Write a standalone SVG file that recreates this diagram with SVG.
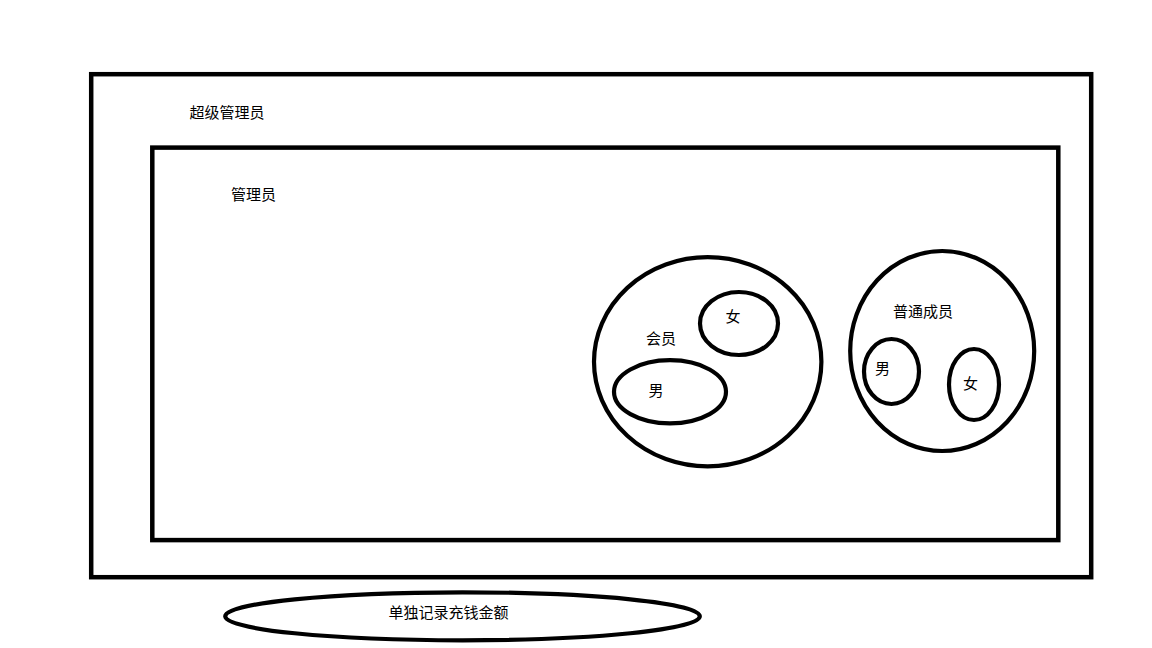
<svg xmlns="http://www.w3.org/2000/svg" width="1152" height="648" viewBox="0 0 1152 648">
<style>
.box{fill:none;stroke:#000;stroke-width:4.5}
.ell{fill:none;stroke:#000;stroke-width:4.2}
text{font-family:"Noto Sans CJK SC","Microsoft YaHei",sans-serif;font-size:15px;fill:#000;text-anchor:middle}
</style>
<rect width="1152" height="648" fill="#fff"/>
<g id="super-admin">
<rect class="box" x="91.2" y="74.2" width="1000" height="503"/>
<text x="227" y="117.5">超级管理员</text>
</g>
<g id="admin">
<rect class="box" x="152.3" y="147.6" width="906" height="392.5"/>
<text x="253.5" y="199.5">管理员</text>
</g>
<g id="member">
<ellipse class="ell" cx="707.7" cy="361.8" rx="113.7" ry="104.6"/>
<text x="661" y="344">会员</text>
</g>
<g id="member-female">
<ellipse class="ell" cx="739" cy="323.5" rx="39" ry="31.5"/>
<text x="733" y="322">女</text>
</g>
<g id="member-male">
<ellipse class="ell" cx="670" cy="391.8" rx="56" ry="31.6"/>
<text x="656" y="396">男</text>
</g>
<g id="regular">
<ellipse class="ell" cx="942.2" cy="351" rx="92" ry="100"/>
<text x="923" y="317">普通成员</text>
</g>
<g id="regular-male">
<ellipse class="ell" cx="891.5" cy="371.5" rx="27.5" ry="32.5"/>
<text x="882.5" y="374">男</text>
</g>
<g id="regular-female">
<ellipse class="ell" cx="974" cy="384.5" rx="25" ry="35.5"/>
<text x="970.5" y="389">女</text>
</g>
<g id="recharge">
<ellipse class="ell" cx="462.5" cy="616.3" rx="237.3" ry="24"/>
<text x="448.5" y="618">单独记录充钱金额</text>
</g>
<g id="connectors"></g>
</svg>
